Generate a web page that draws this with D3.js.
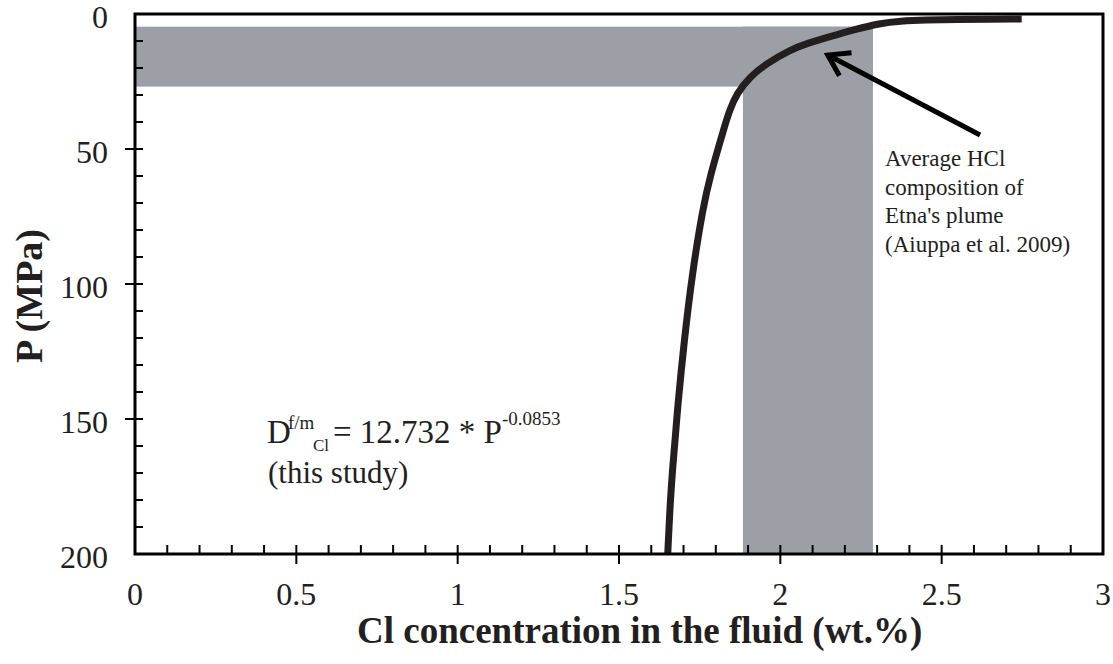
<!DOCTYPE html>
<html>
<head>
<meta charset="utf-8">
<script src="https://cdn.jsdelivr.net/npm/d3@7"></script>
<style>
  body { margin: 0; background: #fff; }
  svg { display: block; }
  text { font-family: "Liberation Serif", "Times New Roman", serif; fill: #231f20; }
</style>
</head>
<body>
<svg id="chart" width="1113" height="664"></svg>
<script>
// curve: pressure (MPa) vs Cl in the fluid (wt.%)
var pressure = [200, 182.5, 170, 145, 121, 96, 71, 59, 47, 41.7, 35.6, 29.4, 23.2, 18.3, 13.3, 10.9, 8.4, 5.9, 3.4, 2.6, 2.2, 2.0, 1.9, 1.85];
var clFluid  = [1.651, 1.658, 1.665, 1.682, 1.702, 1.727, 1.761, 1.785, 1.814, 1.827, 1.843, 1.865, 1.906, 1.958, 2.030, 2.082, 2.154, 2.226, 2.309, 2.371, 2.45, 2.55, 2.65, 2.748];

// grey bands: HCl composition range and the matching pressure range
var hclRange = [1.884, 2.287];
var pressureRange = [4.7, 26.9];

var xTicks = [0, 0.5, 1, 1.5, 2, 2.5, 3];
var yTicks = [0, 50, 100, 150, 200];

var noteLines = ["Average HCl", "composition of", "Etna's plume", "(Aiuppa et al. 2009)"];
// arrow from note to curve [cl, P]
var arrowFrom = [2.619, 44.8];
var arrowTo = [2.147, 15.2];

var margin = {top: 14, right: 10, bottom: 110, left: 135};
var width = 1113, height = 664;

var svg = d3.select("#chart");

var x = d3.scaleLinear().domain([0, 3]).range([margin.left, width - margin.right]);
var y = d3.scaleLinear().domain([0, 200]).range([margin.top, height - margin.bottom]);

var band = "#9c9fa5";

// horizontal band
svg.append("rect")
  .attr("x", x(0))
  .attr("y", y(pressureRange[0]))
  .attr("width", x(hclRange[1]) - x(0))
  .attr("height", y(pressureRange[1]) - y(pressureRange[0]))
  .attr("fill", band);

// vertical band
svg.append("rect")
  .attr("x", x(hclRange[0]))
  .attr("y", y(pressureRange[0]))
  .attr("width", x(hclRange[1]) - x(hclRange[0]))
  .attr("height", y(200) - y(pressureRange[0]))
  .attr("fill", band);

// the curve
var pts = pressure.map(function(p, i) { return [clFluid[i], p]; });
var line = d3.line()
  .x(function(d) { return x(d[0]); })
  .y(function(d) { return y(d[1]); })
  .curve(d3.curveBasis);

svg.append("path")
  .datum(pts)
  .attr("d", line)
  .attr("fill", "none")
  .attr("stroke", "#231f20")
  .attr("stroke-width", 7);

// frame
svg.append("rect")
  .attr("x", x(0))
  .attr("y", y(0))
  .attr("width", x(3) - x(0))
  .attr("height", y(200) - y(0))
  .attr("fill", "none")
  .attr("stroke", "#000")
  .attr("stroke-width", 3);

// minor ticks
var xMinor = d3.range(1, 30).map(function(i) { return i / 10; });
var yMinor = d3.range(1, 20).map(function(i) { return i * 10; });

svg.append("g").selectAll("line")
  .data(xMinor)
  .enter().append("line")
  .attr("x1", function(d) { return x(d); })
  .attr("x2", function(d) { return x(d); })
  .attr("y1", y(200) - 9)
  .attr("y2", function(d) { return (Math.round(d * 10) % 5 === 0) ? y(200) + 10 : y(200); })
  .attr("stroke", "#000")
  .attr("stroke-width", 2);

svg.append("g").selectAll("line")
  .data(yMinor)
  .enter().append("line")
  .attr("y1", function(d) { return y(d); })
  .attr("y2", function(d) { return y(d); })
  .attr("x1", x(0) + 8)
  .attr("x2", function(d) { return (d % 50 === 0) ? x(0) - 10 : x(0); })
  .attr("stroke", "#000")
  .attr("stroke-width", 2);

// tick labels
svg.append("g").selectAll("text")
  .data(xTicks)
  .enter().append("text")
  .attr("x", function(d) { return x(d); })
  .attr("y", 605)
  .attr("text-anchor", "middle")
  .style("font-size", "32px")
  .text(function(d) { return d; });

svg.append("g").selectAll("text")
  .data(yTicks)
  .enter().append("text")
  .attr("x", 108)
  .attr("y", function(d) { return y(d) + 14; })
  .attr("text-anchor", "end")
  .style("font-size", "32px")
  .text(function(d) { return d; });

// axis titles
svg.append("text")
  .attr("x", 357)
  .attr("y", 643)
  .style("font-size", "37px")
  .style("font-weight", "bold")
  .text("Cl concentration in the fluid (wt.%)");

svg.append("text")
  .attr("transform", "translate(42,296) rotate(-90)")
  .attr("text-anchor", "middle")
  .style("font-size", "38px")
  .style("font-weight", "bold")
  .text("P (MPa)");

// equation
var eq = svg.append("text").style("font-size", "33px");
eq.append("tspan").attr("x", 267).attr("y", 443).text("D");
eq.append("tspan").attr("x", 288).attr("y", 429).style("font-size", "19px").text("f/m");
eq.append("tspan").attr("x", 313).attr("y", 451).style("font-size", "17px").text("Cl");
eq.append("tspan").attr("x", 333).attr("y", 443).text("= 12.732 * P");
eq.append("tspan").attr("y", 425).style("font-size", "19px").text("-0.0853");

svg.append("text")
  .attr("x", 268)
  .attr("y", 483)
  .style("font-size", "31px")
  .text("(this study)");

// note
svg.append("text")
  .style("font-size", "23px")
  .selectAll("tspan")
  .data(noteLines)
  .enter().append("tspan")
  .attr("x", 885)
  .attr("y", function(d, i) { return 166 + i * 28.7; })
  .text(function(d) { return d; });

// arrow
svg.append("defs").append("marker")
  .attr("id", "head")
  .attr("markerUnits", "userSpaceOnUse")
  .attr("viewBox", "-26 -16 30 32")
  .attr("refX", 0)
  .attr("refY", 0)
  .attr("markerWidth", 30)
  .attr("markerHeight", 32)
  .attr("orient", "auto")
  .append("path")
  .attr("d", "M-20,-13L0,0L-20,13")
  .attr("fill", "none")
  .attr("stroke", "#000")
  .attr("stroke-width", 5)
  .attr("stroke-linecap", "butt");

svg.append("line")
  .attr("x1", x(arrowFrom[0]))
  .attr("y1", y(arrowFrom[1]))
  .attr("x2", x(arrowTo[0]))
  .attr("y2", y(arrowTo[1]))
  .attr("stroke", "#000")
  .attr("stroke-width", 5)
  .attr("marker-end", "url(#head)");
</script>
</body>
</html>
